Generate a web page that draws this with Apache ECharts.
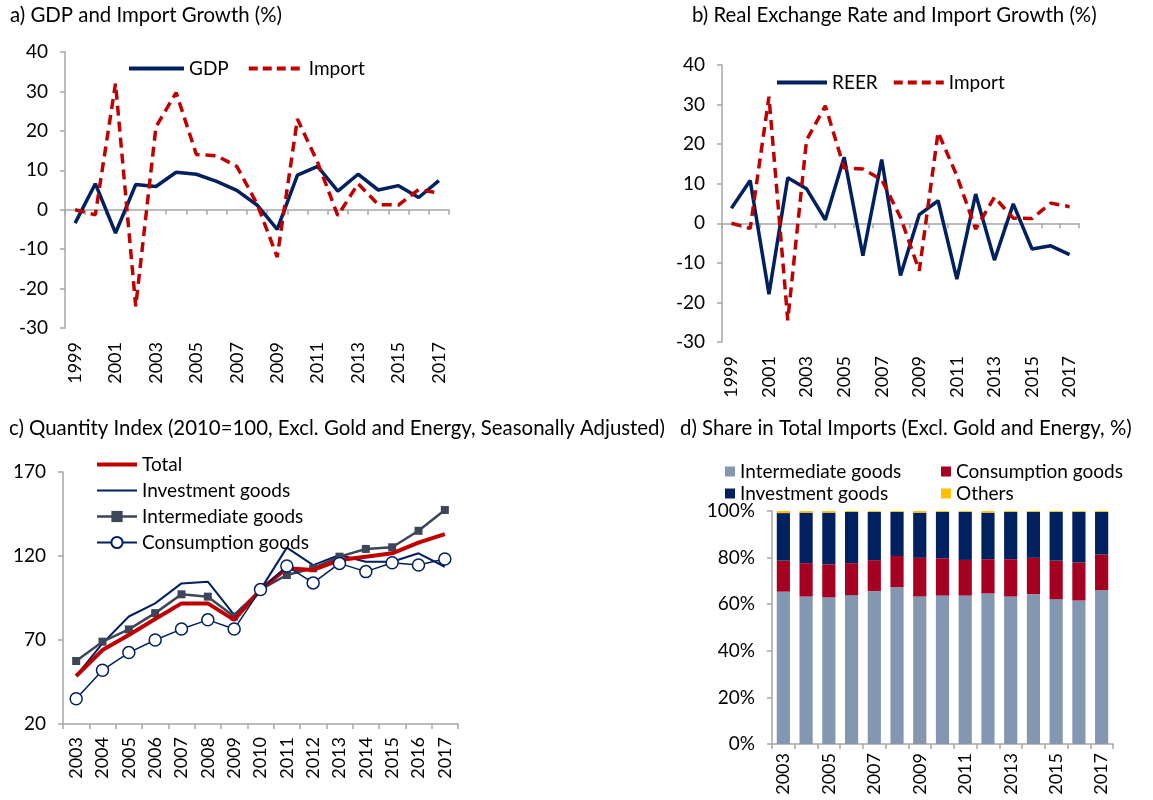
<!DOCTYPE html>
<html>
<head>
<meta charset="utf-8">
<script src="https://cdn.jsdelivr.net/npm/echarts@6/dist/echarts.min.js"></script>
<style>
  html, body {margin: 0; padding: 0; background: #fff;}
  #chart {width: 1153px; height: 800px;}
</style>
</head>
<body>
<div id="chart"></div>
<script>
// annual growth, 1999-2017
const years = ['1999','2000','2001','2002','2003','2004','2005','2006','2007','2008','2009','2010','2011','2012','2013','2014','2015','2016','2017'];
const gdp = [-3.4, 6.6, -5.9, 6.4, 5.9, 9.5, 9.0, 7.2, 4.9, 1.2, -5.0, 8.8, 11.0, 4.7, 9.0, 5.0, 6.1, 3.1, 7.4];
const imports = [0, -1.3, 32, -24.5, 21, 29.7, 14, 13.7, 11, 1.5, -12, 23, 12, -1.5, 6.6, 1.3, 1.2, 5.1, 4.2];
const reer = [3.8, 10.8, -17.9, 11.5, 8.7, 0.9, 16.7, -8.2, 16.1, -13.2, 2.2, 5.7, -14.1, 7.4, -9.3, 4.9, -6.5, -5.7, -7.9];

// quantity index, 2003-2017
const qYears = ['2003','2004','2005','2006','2007','2008','2009','2010','2011','2012','2013','2014','2015','2016','2017'];
const qTotal = [48.6, 64, 73, 82.5, 91.8, 91.8, 82, 100, 112.7, 111.7, 117.6, 119.6, 121.6, 128, 133];
const qInvest = [48.6, 68, 84, 91.8, 103.7, 104.7, 85, 100, 125, 114.6, 120.6, 116.6, 116.6, 121.6, 113.6];
const qInter = [57.5, 69, 76.3, 86, 97.2, 95.8, 84, 100, 108.7, 112.7, 119.6, 124.2, 125.2, 135, 147.4];
const qCons = [35, 52, 62.5, 70, 76.5, 82, 76.5, 100, 114, 104, 115.6, 110.7, 116, 114.6, 118.2];

// shares in total imports (%)
const shInter = [65.4, 63.3, 62.9, 63.9, 65.6, 67.3, 63.3, 63.7, 63.7, 64.6, 63.3, 64.3, 62.1, 61.6, 66.0];
const shCons = [13.3, 14.3, 14.2, 13.7, 13.3, 13.4, 16.6, 16.0, 15.3, 14.7, 16.0, 15.6, 16.6, 16.3, 15.3];
const shInvest = [20.4, 21.7, 22.2, 22.0, 20.7, 18.9, 19.4, 19.9, 20.6, 20.0, 20.3, 19.7, 20.9, 21.7, 18.3];
const shOther = [0.9, 0.7, 0.7, 0.4, 0.4, 0.4, 0.7, 0.4, 0.4, 0.7, 0.4, 0.4, 0.4, 0.4, 0.4];

const FONT = 'Lato';
const NAVY = '#002060';
const RED = '#c00000';
const AXIS = '#a6a6a6';
const legendText = {fontFamily: FONT, fontSize: 19, color: '#000'};
// line-only legend entry (hide the marker echarts puts in the middle)
const lineOnly = (name, width, dash) => ({
  name: name, itemStyle: {opacity: 0},
  lineStyle: {width: width, type: dash || 'solid'}
});

const chart = echarts.init(document.getElementById('chart'));

const yAxisBase = (grid, min, max, interval, fmt) => ({
  type: 'value', gridIndex: grid, min: min, max: max, interval: interval,
  axisLine: {show: true, lineStyle: {color: AXIS, width: 1.5}},
  axisTick: {show: true, length: 5, lineStyle: {color: AXIS, width: 1.5}},
  splitLine: {show: false},
  axisLabel: {color: '#000', fontFamily: FONT, fontSize: 19, margin: 17, formatter: fmt || '{value}'}
});

// axis that carries only the line + ticks (sits on zero)
const xLineAxis = (grid, cats) => ({
  type: 'category', gridIndex: grid, data: cats, position: 'bottom',
  axisLine: {show: true, onZero: true, lineStyle: {color: AXIS, width: 1.5}},
  axisTick: {show: true, length: 5, interval: 0, lineStyle: {color: AXIS, width: 1.5}},
  axisLabel: {show: false}
});
// axis that carries only the labels (bottom of plot)
const xLabelAxis = (grid, cats, margin) => ({
  type: 'category', gridIndex: grid, data: cats, position: 'bottom',
  axisLine: {show: false, onZero: false},
  axisTick: {show: false},
  axisLabel: {color: '#000', fontFamily: FONT, fontSize: 18, rotate: 90, interval: 1, margin: margin}
});

const option = {
  backgroundColor: '#fff',
  animation: false,
  textStyle: {fontFamily: FONT},
  title: [
    {text: 'a) GDP and Import Growth (%)', left: 10, top: 5},
    {text: 'b) Real Exchange Rate and Import Growth (%)', left: 692, top: 5},
    {text: 'c) Quantity Index (2010=100, Excl. Gold and Energy, Seasonally Adjusted)', left: 9, top: 418},
    {text: 'd) Share in Total Imports (Excl. Gold and Energy, %)', left: 680, top: 418}
  ].map(t => Object.assign(t, {padding: 0, textStyle: {fontFamily: FONT, fontSize: 20.4, fontWeight: 'normal', color: '#000'}})),
  legend: [
    {
      data: [lineOnly('GDP', 4), lineOnly('Import', 4, [9, 5])], left: 127, top: 59, padding: 0,
      itemWidth: 55, itemHeight: 14, itemGap: 18, textStyle: legendText
    },
    {
      data: [lineOnly('REER', 4), lineOnly('Import', 4, [9, 5])], left: 775, top: 73, padding: 0,
      itemWidth: 50, itemHeight: 14, itemGap: 14, textStyle: legendText
    },
    {
      data: [lineOnly('Total', 4), lineOnly('Investment goods', 2),
        {name: 'Intermediate goods', lineStyle: {width: 2.5}},
        {name: 'Consumption goods', lineStyle: {width: 2}}],
      orient: 'vertical', left: 95, top: 455, padding: 0, itemWidth: 40, itemHeight: 14, itemGap: 7,
      textStyle: legendText
    },
    {
      data: [{name: 'Intermediate goods ', icon: 'rect'}, {name: 'Investment goods ', icon: 'rect'}],
      orient: 'vertical', left: 725, top: 462, padding: 0, itemWidth: 10, itemHeight: 10, itemGap: 3,
      textStyle: legendText
    },
    {
      data: [{name: 'Consumption goods ', icon: 'rect'}, {name: 'Others', icon: 'rect'}],
      orient: 'vertical', left: 941, top: 462, padding: 0, itemWidth: 10, itemHeight: 10, itemGap: 3,
      textStyle: legendText
    }
  ],
  grid: [
    {left: 65, top: 52, width: 384, height: 276},
    {left: 722, top: 65, width: 357, height: 277},
    {left: 63, top: 472, width: 395, height: 252},
    {left: 772, top: 511, width: 341, height: 233}
  ],
  xAxis: [
    xLineAxis(0, years),
    xLabelAxis(0, years, 14),
    xLineAxis(1, years),
    xLabelAxis(1, years, 14),
    {
      type: 'category', gridIndex: 2, data: qYears,
      axisLine: {show: true, lineStyle: {color: AXIS, width: 1.5}},
      axisTick: {show: true, length: 5, interval: 0, lineStyle: {color: AXIS, width: 1.5}},
      axisLabel: {color: '#000', fontFamily: FONT, fontSize: 18, rotate: 90, interval: 0, margin: 13}
    },
    {
      type: 'category', gridIndex: 3, data: qYears,
      axisLine: {show: true, lineStyle: {color: AXIS, width: 1.5}},
      axisTick: {show: true, length: 5, interval: 0, lineStyle: {color: AXIS, width: 1.5}},
      axisLabel: {color: '#000', fontFamily: FONT, fontSize: 18, rotate: 90, interval: 1, margin: 9}
    }
  ],
  yAxis: [
    yAxisBase(0, -30, 40, 10),
    yAxisBase(1, -30, 40, 10),
    yAxisBase(2, 20, 170, 50),
    yAxisBase(3, 0, 100, 20, '{value}%')
  ],
  series: [
    // a)
    {name: 'GDP', type: 'line', xAxisIndex: 0, yAxisIndex: 0, data: gdp, symbol: 'none',
      lineStyle: {color: NAVY, width: 3.5}, itemStyle: {color: NAVY}},
    {name: 'Import', type: 'line', xAxisIndex: 0, yAxisIndex: 0, data: imports, symbol: 'none',
      lineStyle: {color: RED, width: 3.5, type: [10, 6]}, itemStyle: {color: RED}},
    // b)
    {name: 'REER', type: 'line', xAxisIndex: 2, yAxisIndex: 1, data: reer, symbol: 'none',
      lineStyle: {color: NAVY, width: 3.5}, itemStyle: {color: NAVY}},
    {name: 'Import', type: 'line', xAxisIndex: 2, yAxisIndex: 1, data: imports, symbol: 'none',
      lineStyle: {color: RED, width: 3.5, type: [10, 6]}, itemStyle: {color: RED}},
    // c)
    {name: 'Investment goods', type: 'line', xAxisIndex: 4, yAxisIndex: 2, data: qInvest, symbol: 'none',
      lineStyle: {color: NAVY, width: 2}, itemStyle: {color: NAVY}, z: 3},
    {name: 'Intermediate goods', type: 'line', xAxisIndex: 4, yAxisIndex: 2, data: qInter,
      symbol: 'rect', symbolSize: 8, lineStyle: {color: '#3b4658', width: 2.5}, itemStyle: {color: '#3b4658'}, z: 4},
    {name: 'Total', type: 'line', xAxisIndex: 4, yAxisIndex: 2, data: qTotal, symbol: 'none',
      lineStyle: {color: RED, width: 4}, itemStyle: {color: RED}, z: 5},
    {name: 'Consumption goods', type: 'line', xAxisIndex: 4, yAxisIndex: 2, data: qCons,
      symbol: 'circle', symbolSize: 12, lineStyle: {color: NAVY, width: 1.5},
      itemStyle: {color: '#fff', borderColor: NAVY, borderWidth: 1.5}, z: 6},
    // d)
    {name: 'Intermediate goods ', type: 'bar', stack: 'share', xAxisIndex: 5, yAxisIndex: 3, data: shInter,
      barWidth: '58%', itemStyle: {color: '#8497b0'}},
    {name: 'Consumption goods ', type: 'bar', stack: 'share', xAxisIndex: 5, yAxisIndex: 3, data: shCons,
      barWidth: '58%', itemStyle: {color: '#a50021'}},
    {name: 'Investment goods ', type: 'bar', stack: 'share', xAxisIndex: 5, yAxisIndex: 3, data: shInvest,
      barWidth: '58%', itemStyle: {color: '#002060'}},
    {name: 'Others', type: 'bar', stack: 'share', xAxisIndex: 5, yAxisIndex: 3, data: shOther,
      barWidth: '58%', itemStyle: {color: '#ffc000'}}
  ]
};

chart.setOption(option);
</script>
</body>
</html>
